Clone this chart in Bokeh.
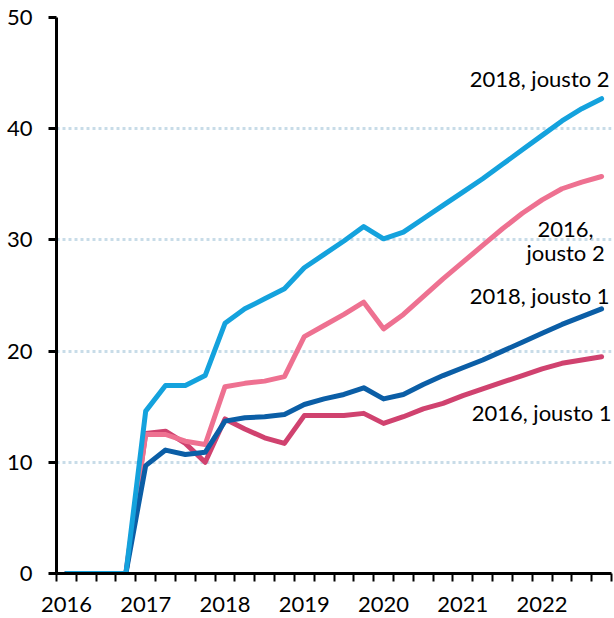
from bokeh.plotting import figure
from bokeh.models import Range1d, FixedTicker, Label
from bokeh.embed import file_html
from bokeh.resources import INLINE

# ---------------- data ----------------
years = [2016, 2017, 2018, 2019, 2020, 2021, 2022]
quarters = [f"{y}Q{q}" for y in years for q in range(1, 5)]

y2018_j2 = [0, 0, 0, 0, 14.6, 16.9, 16.9, 17.8, 22.5, 23.8, 24.7, 25.6, 27.5, 28.7,
            29.9, 31.2, 30.1, 30.7, 31.9, 33.1, 34.3, 35.5, 36.8, 38.1, 39.4, 40.7, 41.8, 42.7]
y2016_j2 = [0, 0, 0, 0, 12.5, 12.5, 11.9, 11.6, 16.8, 17.1, 17.3, 17.7, 21.3, 22.3,
            23.3, 24.4, 22.0, 23.3, 24.9, 26.5, 28.0, 29.5, 31.0, 32.4, 33.6, 34.6, 35.2, 35.7]
y2018_j1 = [0, 0, 0, 0, 9.7, 11.1, 10.7, 10.9, 13.7, 14.0, 14.1, 14.3, 15.2, 15.7,
            16.1, 16.7, 15.7, 16.1, 17.0, 17.8, 18.5, 19.2, 20.0, 20.8, 21.6, 22.4, 23.1, 23.8]
y2016_j1 = [0, 0, 0, 0, 12.6, 12.8, 11.7, 10.0, 13.9, 13.0, 12.2, 11.7, 14.2, 14.2,
            14.2, 14.4, 13.5, 14.1, 14.8, 15.3, 16.0, 16.6, 17.2, 17.8, 18.4, 18.9, 19.2, 19.5]

series_names = ["2016, jousto 1", "2016,\njousto 2", "2018, jousto 1", "2018, jousto 2"]
y_ticks = [0, 10, 20, 30, 40, 50]

x = list(range(len(quarters)))

FONT = "Lato"
FS = "22px"

p = figure(width=614, height=618, output_backend="svg", toolbar_location=None,
           x_range=Range1d(-0.5, len(quarters) - 0.5), y_range=Range1d(0, 50),
           min_border_left=56, min_border_right=3, min_border_top=17, min_border_bottom=45)
p.outline_line_color = None
p.background_fill_color = "white"
p.border_fill_color = "white"

# grid
p.xgrid.grid_line_color = None
p.ygrid.ticker = FixedTicker(ticks=y_ticks[1:])
p.ygrid.grid_line_color = "#c8dce8"
p.ygrid.grid_line_dash = "3 3"
p.ygrid.grid_line_width = 3

# y axis
ya = p.yaxis[0]
ya.ticker = FixedTicker(ticks=y_ticks)
ya.axis_line_width = 3
ya.axis_line_color = "black"
ya.major_tick_out = 8
ya.major_tick_in = 0
ya.major_tick_line_width = 3
ya.major_tick_line_color = "black"
ya.minor_tick_line_color = None
ya.major_label_text_font = FONT
ya.major_label_text_font_size = FS
ya.major_label_text_color = "black"
ya.major_label_standoff = 16

# x axis
xa = p.xaxis[0]
year_pos = [i for i, q in enumerate(quarters) if q.endswith("Q1")]
xa.ticker = FixedTicker(ticks=year_pos, minor_ticks=[i - 0.5 for i in range(len(quarters) + 1)])
xa.major_label_overrides = {i: quarters[i][:4] for i in year_pos}
xa.axis_line_width = 3
xa.axis_line_color = "black"
xa.major_tick_out = 0
xa.major_tick_in = 0
xa.major_tick_line_color = None
xa.minor_tick_out = 8
xa.minor_tick_in = 0
xa.minor_tick_line_width = 2
xa.minor_tick_line_color = "black"
xa.major_label_text_font = FONT
xa.major_label_text_font_size = FS
xa.major_label_text_color = "black"
xa.major_label_standoff = 15

colors = {"c16j1": "#d0426f", "c16j2": "#ee7191", "c18j1": "#0b5ea6", "c18j2": "#14a2dd"}

p.line(x, y2016_j1, line_color=colors["c16j1"], line_width=5, line_join="round", line_cap="round")
p.line(x, y2016_j2, line_color=colors["c16j2"], line_width=5, line_join="round", line_cap="round")
p.line(x, y2018_j1, line_color=colors["c18j1"], line_width=5, line_join="round", line_cap="round")
p.line(x, y2018_j2, line_color=colors["c18j2"], line_width=5, line_join="round", line_cap="round")

last = x[-1]
labels = [
    (series_names[3], y2018_j2[-1], 8, 20, "right"),
    (series_names[1], y2016_j2[-1], -36, -64, "center"),
    (series_names[2], y2018_j1[-1], 8, 13, "right"),
    (series_names[0], y2016_j1[-1], 10, -56, "right"),
]
for txt, yv, dx, dy, al in labels:
    p.add_layout(Label(x=last, y=yv, x_offset=dx, y_offset=dy, text=txt,
                       text_align=al, text_baseline="middle", text_font=FONT,
                       text_font_size=FS, text_color="black", text_line_height=0.92))

open("out.html", "w").write(file_html(p, INLINE))
